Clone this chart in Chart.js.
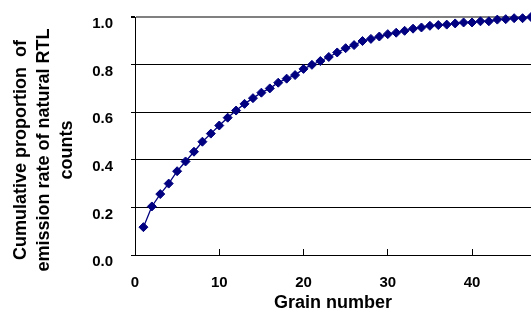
<!DOCTYPE html>
<html>
<head>
<meta charset="utf-8">
<script src="https://cdn.jsdelivr.net/npm/chart.js@4/dist/chart.umd.min.js"></script>
<style>
  html, body { margin: 0; padding: 0; background: #fff; }
  #grainChart { display: block; }
</style>
</head>
<body>
<canvas id="grainChart" width="531" height="317"></canvas>
<script>
// Dados
const grainNumbers = [
  1, 2, 3, 4, 5, 6, 7, 8, 9, 10,
  11, 12, 13, 14, 15, 16, 17, 18, 19, 20,
  21, 22, 23, 24, 25, 26, 27, 28, 29, 30,
  31, 32, 33, 34, 35, 36, 37, 38, 39, 40,
  41, 42, 43, 44, 45, 46, 47
];
const cumulativeProportion = [
  0.117, 0.204, 0.256, 0.300, 0.352, 0.393, 0.434, 0.476, 0.510, 0.544,
  0.577, 0.607, 0.635, 0.659, 0.682, 0.700, 0.724, 0.741, 0.756, 0.782,
  0.799, 0.815, 0.832, 0.851, 0.869, 0.882, 0.899, 0.908, 0.918, 0.928,
  0.934, 0.942, 0.951, 0.956, 0.963, 0.966, 0.968, 0.973, 0.977, 0.977,
  0.982, 0.982, 0.989, 0.991, 0.995, 0.995, 1.000
];
const xTicks = [0, 10, 20, 30, 40];
const yTicks = [0, 0.2, 0.4, 0.6, 0.8, 1.0];

const xTitle = 'Grain number';
const yTitle = ['Cumulative proportion  of', 'emission rate of natural RTL', 'counts'];

const fontFamily = "'Liberation Sans', Arial, sans-serif";
Chart.defaults.font.family = fontFamily;
Chart.defaults.color = '#000';

const points = grainNumbers.map((g, i) => ({ x: g, y: cumulativeProportion[i] }));

// Título do eixo Y em três linhas, um pouco abaixo do centro da área do gráfico
const yTitlePlugin = {
  id: 'yTitlePlugin',
  afterDraw(chart) {
    const c = chart.ctx;
    const area = chart.chartArea;
    c.save();
    c.font = 'bold 18px ' + fontFamily;
    c.fillStyle = '#000';
    c.textAlign = 'center';
    c.textBaseline = 'middle';
    c.translate(21.5, (area.top + area.bottom) / 2 + 14);
    c.rotate(-Math.PI / 2);
    yTitle.forEach((line, i) => c.fillText(line, 0, i * 23));
    c.restore();
  }
};

function noPadding(scale) {
  scale.paddingTop = 0;
  scale.paddingBottom = 0;
  scale.paddingLeft = 0;
  scale.paddingRight = 0;
}

const ctx = document.getElementById('grainChart').getContext('2d');
const chartInstance = new Chart(ctx, {
  type: 'line',
  data: {
    datasets: [{
      data: points,
      borderColor: '#000080',
      borderWidth: 1.3,
      backgroundColor: '#000080',
      pointStyle: 'rectRot',
      pointRadius: 4.5,
      pointBackgroundColor: '#000080',
      pointBorderColor: '#000080',
      pointBorderWidth: 1,
      tension: 0,
      clip: false
    }]
  },
  options: {
    responsive: false,
    animation: false,
    layout: { autoPadding: false, padding: { top: 17, left: 0, right: 0, bottom: 0 } },
    plugins: {
      legend: { display: false },
      tooltip: { enabled: false }
    },
    scales: {
      x: {
        type: 'linear',
        min: 0,
        max: 47,
        afterBuildTicks: (scale) => { scale.ticks = xTicks.map(v => ({ value: v })); },
        afterFit: (scale) => { scale.height = 62; noPadding(scale); },
        ticks: {
          font: { size: 15, weight: 'bold' },
          padding: 25,
          maxRotation: 0
        },
        grid: {
          drawOnChartArea: false,
          drawTicks: true,
          tickLength: -6,
          color: '#000'
        },
        border: { color: '#000', width: 1 },
        title: {
          display: true,
          text: xTitle,
          font: { size: 18, weight: 'bold', lineHeight: 1 },
          padding: { top: 0, bottom: 5 }
        }
      },
      y: {
        min: 0,
        max: 1,
        afterBuildTicks: (scale) => { scale.ticks = yTicks.map(v => ({ value: v })); },
        afterFit: (scale) => { scale.width = 135; noPadding(scale); },
        ticks: {
          font: { size: 15, weight: 'bold' },
          padding: 18,
          labelOffset: 7,
          callback: (value) => value.toFixed(1)
        },
        grid: {
          color: (c) => (c.tick && c.tick.value === 1 ? '#808080' : '#000'),
          lineWidth: (c) => (c.tick && c.tick.value === 1 ? 2 : 1),
          tickLength: 4,
          tickColor: '#000'
        },
        border: { color: '#000', width: 1 },
        title: { display: false }
      }
    }
  },
  plugins: [yTitlePlugin]
});
</script>
</body>
</html>
